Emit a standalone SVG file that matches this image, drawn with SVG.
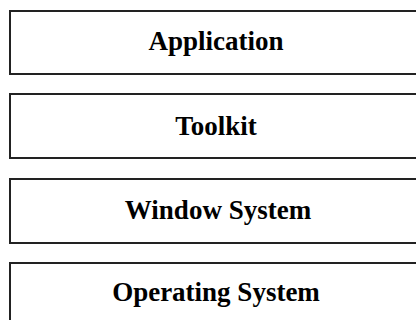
<svg xmlns="http://www.w3.org/2000/svg" width="416" height="320" viewBox="0 0 416 320">
<style>
.box{fill:#fff;stroke:#222;stroke-width:2}
.lbl{font-family:"Liberation Serif","Times New Roman",serif;font-size:27px;font-weight:bold;fill:#000;text-anchor:middle}
</style>
<rect width="416" height="320" fill="#fff"/>
<g id="application"><rect class="box" x="10" y="11" width="420" height="63"/><text class="lbl" x="216" y="50">Application</text></g>
<g id="toolkit"><rect class="box" x="10" y="94" width="420" height="64"/><text class="lbl" x="216" y="135">Toolkit</text></g>
<g id="window-system"><rect class="box" x="10" y="179" width="420" height="64"/><text class="lbl" x="218" y="219">Window System</text></g>
<g id="operating-system"><rect class="box" x="10" y="263" width="420" height="70"/><text class="lbl" x="216" y="301">Operating System</text></g>
<g id="connectors"></g>
</svg>
